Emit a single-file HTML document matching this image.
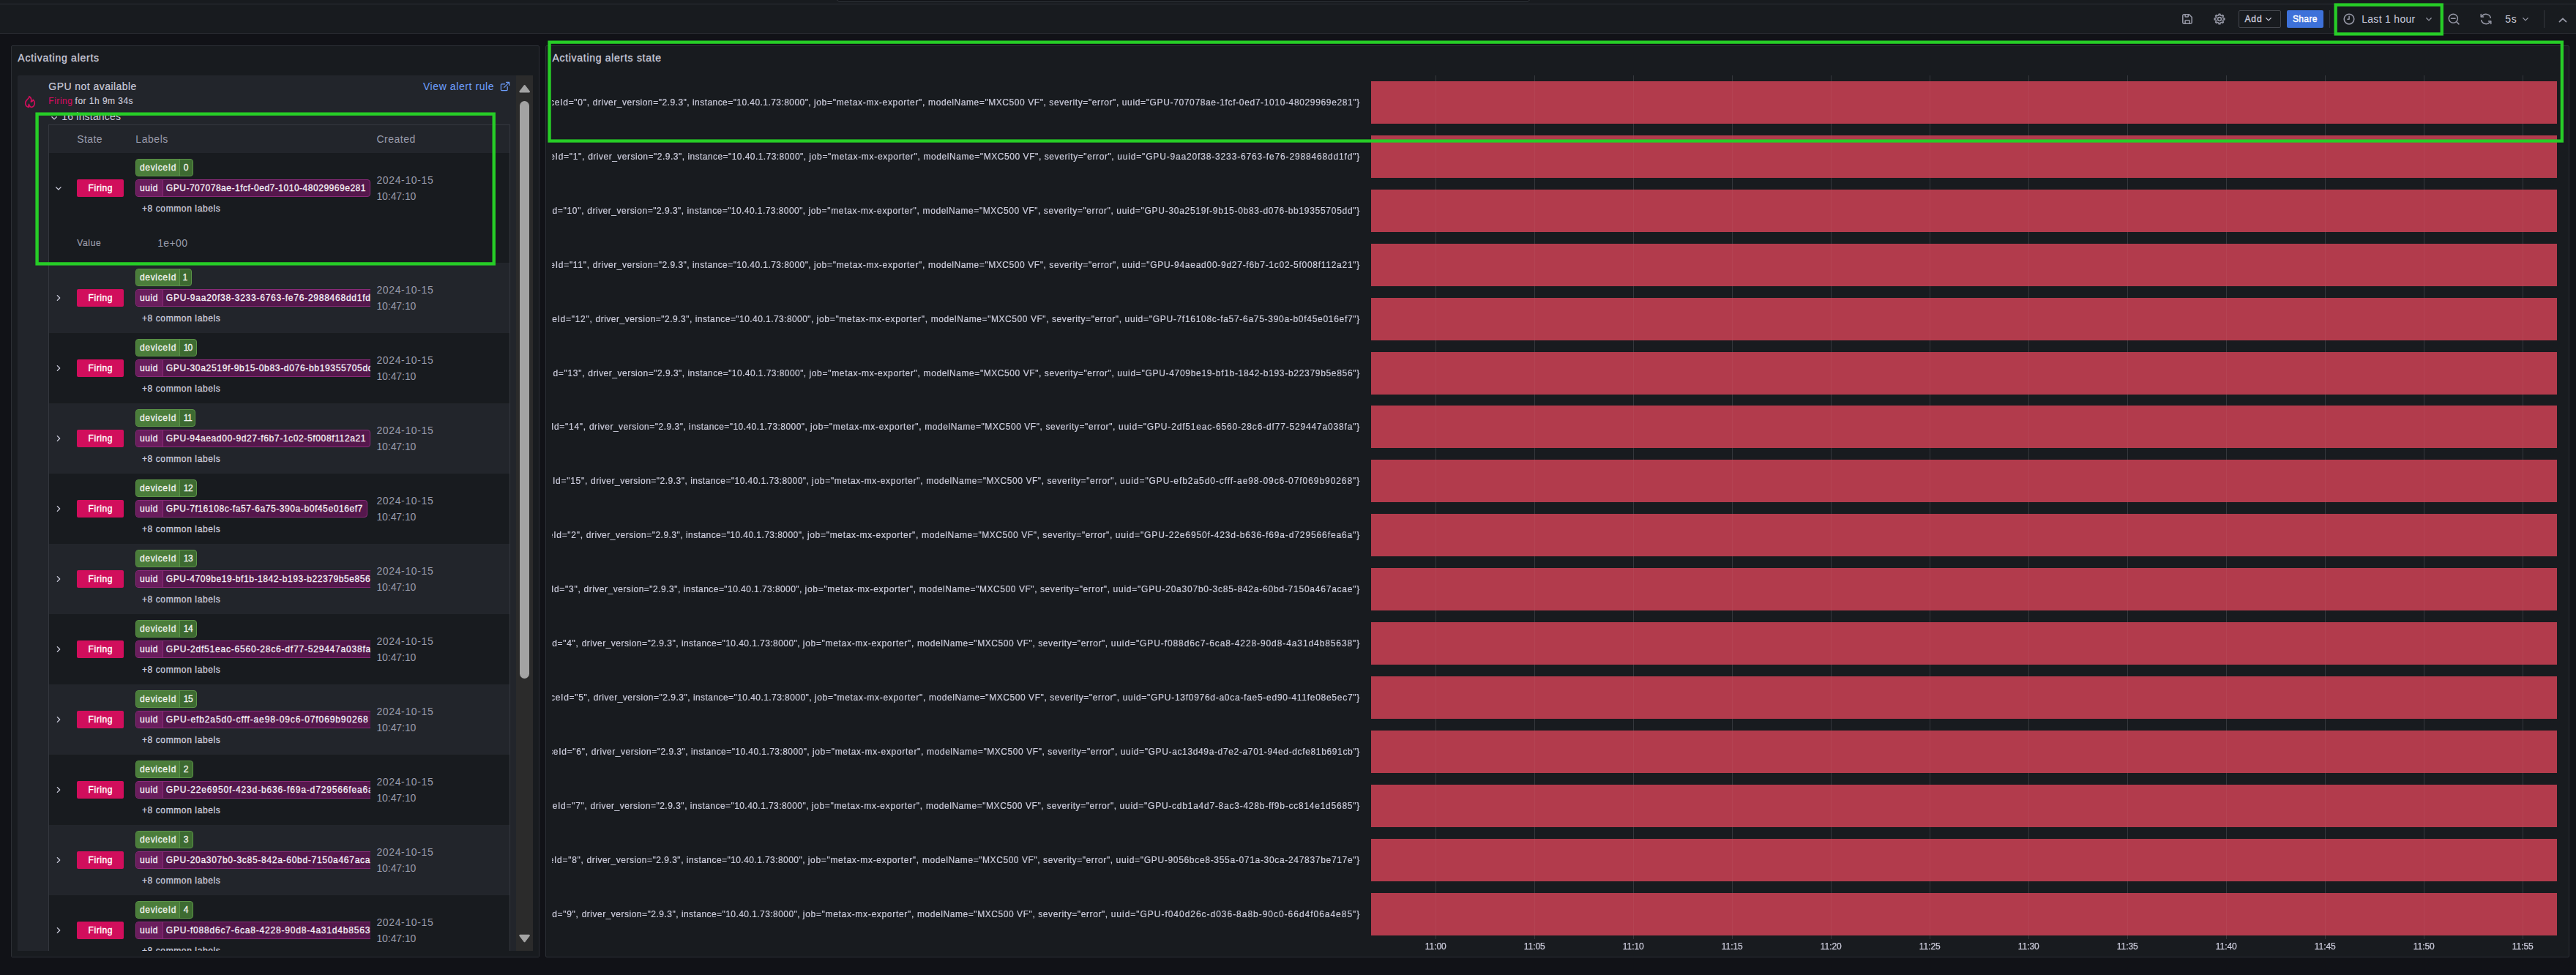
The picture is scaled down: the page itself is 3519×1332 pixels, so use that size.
<!DOCTYPE html>
<html><head><meta charset="utf-8"><title>Activating alerts</title>
<style>
html,body{margin:0;padding:0;}
body{width:3519px;height:1332px;overflow:hidden;background:#111217;position:relative;font-family:"Liberation Sans", sans-serif;}
body div,body svg,.t{position:absolute;}
.t{white-space:pre;}
</style></head><body>
<div style="left:0px;top:0px;width:3519px;height:46px;background:#181b1f;"></div>
<div style="left:0px;top:5px;width:3519px;height:1px;background:#2b2e34;"></div>
<div style="left:0px;top:45px;width:3519px;height:1px;background:#2b2e34;"></div>
<div style="left:1143px;top:-20px;width:947px;height:22px;background:#0d0e12;border:1px solid #34373d;border-radius:3px;box-sizing:border-box;"></div>
<svg style="left:2980px;top:18px" width="16" height="16" viewBox="0 0 16 16" fill="none" stroke="#9698a6" stroke-width="1.55" stroke-linejoin="round" stroke-linecap="round"><path d="M3.500 1.800H10.500L14.200 5.500V12.500a1.700 1.700 0 0 1-1.700 1.700H3.500a1.700 1.700 0 0 1-1.700-1.700V3.500a1.700 1.700 0 0 1 1.700-1.700z"/><path d="M5.100 2v2.200a.8.8 0 0 0 .8.800h2.600a.8.8 0 0 0 .8-.800V2"/><path d="M5.100 14v-3.300a.9.900 0 0 1 .9-.900h4.300a.9.900 0 0 1 .9.900V14"/></svg>
<svg style="left:3022px;top:16px" width="20" height="20" viewBox="0 0 20 20" fill="none" stroke="#9698a6" stroke-width="1.55" stroke-linejoin="round"><path d="M8.90 4.87 L9.09 3.21 L10.91 3.21 L11.10 4.87 L12.85 5.59 L14.16 4.55 L15.45 5.84 L14.41 7.15 L15.13 8.90 L16.79 9.09 L16.79 10.91 L15.13 11.10 L14.41 12.85 L15.45 14.16 L14.16 15.45 L12.85 14.41 L11.10 15.13 L10.91 16.79 L9.09 16.79 L8.90 15.13 L7.15 14.41 L5.84 15.45 L4.55 14.16 L5.59 12.85 L4.87 11.10 L3.21 10.91 L3.21 9.09 L4.87 8.90 L5.59 7.15 L4.55 5.84 L5.84 4.55 L7.15 5.59Z"/><circle cx="10" cy="10" r="2.400"/></svg>
<div style="left:3058px;top:14px;width:58px;height:24px;border:1px solid #45484f;border-radius:2px;box-sizing:border-box;"></div>
<svg style="left:3093.05px;top:22px" width="12" height="8" viewBox="0 0 12 8" fill="none" stroke="#ccccdc" stroke-width="1.3" stroke-linecap="round" stroke-linejoin="round"><path d="M2.7 2.6 6 5.9 9.3 2.6"/></svg>
<div style="left:3124px;top:14px;width:50px;height:24px;background:#3d71d9;border-radius:2px;"></div>
<div style="left:3182px;top:14px;width:1px;height:24px;background:#34373d;"></div>
<svg style="left:3199px;top:16px" width="20" height="20" viewBox="0 0 20 20" fill="none" stroke="#9698a6" stroke-width="1.55" stroke-linecap="round" stroke-linejoin="round"><circle cx="10" cy="10.1" r="6.800"/><path d="M10.100 6.300v3.900h-2.200"/></svg>
<svg style="left:3312.15px;top:22px" width="12" height="8" viewBox="0 0 12 8" fill="none" stroke="#9698a6" stroke-width="1.3" stroke-linecap="round" stroke-linejoin="round"><path d="M2.8 2.7 6 5.9 9.2 2.7"/></svg>
<svg style="left:3342px;top:16px" width="20" height="20" viewBox="0 0 20 20" fill="none" stroke="#9698a6" stroke-width="1.5" stroke-linecap="round"><circle cx="9.300" cy="9.300" r="6.050"/><path d="M6.500 9.300h5.600M13.700 13.700l3.200 3.200"/></svg>
<svg style="left:3385.7px;top:16px" width="20" height="20" viewBox="0 0 20 20" fill="none" stroke="#9698a6" stroke-width="1.5" stroke-linecap="round" stroke-linejoin="round"><path d="M16.3 8.2A6.5 6.5 0 0 0 4.6 6.2"/><path d="M3.7 11.8a6.5 6.5 0 0 0 11.7 2"/><path d="M3.2 3.6v3.3h3.3"/><path d="M16.8 16.4v-3.3h-3.3"/></svg>
<svg style="left:3444px;top:21.6px" width="12" height="8" viewBox="0 0 12 8" fill="none" stroke="#9698a6" stroke-width="1.3" stroke-linecap="round" stroke-linejoin="round"><path d="M2.75 2.65 6 5.9 9.25 2.65"/></svg>
<div style="left:3475px;top:14px;width:1px;height:24px;background:#34373d;"></div>
<svg style="left:3493px;top:23px" width="16" height="10" viewBox="0 0 16 10" fill="none" stroke="#9698a6" stroke-width="1.8" stroke-linecap="round" stroke-linejoin="round"><path d="M3.5 6.6 8 2.3l4.5 4.3"/></svg>
<div style="left:15px;top:62px;width:722px;height:1246px;background:#181b1f;border:1px solid #2c2f35;border-radius:2px;box-sizing:border-box;"></div>
<div style="left:745px;top:62px;width:2765px;height:1246px;background:#181b1f;border:1px solid #2c2f35;border-radius:2px;box-sizing:border-box;"></div>
<div style="left:24px;top:103px;width:681px;height:1196px;background:#22252b;border-radius:2px 0 0 0;"></div>
<div style="left:705px;top:103px;width:23px;height:1196px;background:#2b2b2b;"></div>
<svg style="left:705px;top:103px" width="23" height="40" viewBox="0 0 23 40"><path d="M11.65 14.2 5.55 22.2h12.2z" fill="#a3a3a3" stroke="#a3a3a3" stroke-width="2.4" stroke-linejoin="round"/></svg>
<div style="left:710px;top:138px;width:13px;height:789px;background:#a3a3a3;border-radius:6.5px;"></div>
<svg style="left:705px;top:1262px" width="23" height="37" viewBox="0 0 23 37"><path d="M11.55 24.1 5.45 16h12.2z" fill="#a3a3a3" stroke="#a3a3a3" stroke-width="2.4" stroke-linejoin="round"/></svg>
<svg style="left:32px;top:129px" width="18" height="20" viewBox="0 0 18 20" fill="none" stroke="#d10e5c" stroke-width="1.65" stroke-linejoin="round" stroke-linecap="round"><path d="M7.6 17.4C4.6 16.9 2.7 14.6 2.7 11.9c0-2.400 1.300-4 2.900-5.300C7.100 5.400 7.900 4.200 8 2.700c2.400 1.500 3.300 4.300 2.400 7.500 1.300-.500 2.300-1.500 2.900-2.800 1.400 1.300 2 2.900 2 4.500 0 2.900-2 5.100-4.900 5.600-1.600-.800-2.600-2.200-2.900-4.100-.700 1.200-.900 2.600.100 4z"/></svg>
<svg style="left:682px;top:110px" width="16" height="16" viewBox="0 0 16 16" fill="none" stroke="#6e9fff" stroke-width="1.2" stroke-linecap="round" stroke-linejoin="round"><path d="M11.2 8.400v4.200a1 1 0 0 1-1 1H3.400a1 1 0 0 1-1-1V5.800a1 1 0 0 1 1-1h4.200"/><path d="M9.600 2.400h4v4M13.400 2.600 6.700 9.300"/></svg>
<svg style="left:68px;top:156.500px" width="12" height="8" viewBox="0 0 12 8" fill="none" stroke="#ccccdc" stroke-width="1.3" stroke-linecap="round" stroke-linejoin="round"><path d="M2.900 2.700 6.100 5.900 9.300 2.700"/></svg>
<div style="left:66px;top:170px;width:631px;height:1129px;border:1px solid #34373e;border-bottom:none;box-sizing:border-box;"></div>
<div style="left:67px;top:209px;width:629px;height:150px;background:#181b1f;"></div>
<svg style="left:74px;top:252.5px" width="12" height="8" viewBox="0 0 12 8" fill="none" stroke="#ccccdc" stroke-width="1.3" stroke-linecap="round" stroke-linejoin="round"><path d="M2.700 2.900 5.900 6.000 9.100 2.900"/></svg>
<div style="left:105px;top:245px;width:64px;height:24px;background:#d10e5c;border-radius:2px;"></div>
<div style="left:185px;top:217px;width:79.0px;height:24px;border:1px solid #5b9447;border-radius:4px;box-sizing:border-box;background:#3d6a31;overflow:hidden"><div style="left:0;top:0;width:59.0px;height:22px;background:#4b7d3b;border-right:1px solid #5b9447"></div></div>
<div style="left:185px;top:245px;width:320.8px;height:24px;border:1px solid #8a2a79;border-radius:4px;box-sizing:border-box;background:#55174c;overflow:hidden"><div style="left:0;top:0;width:35.500px;height:22px;background:#6a1e5d;border-right:1px solid #8a2a79"></div></div>
<div style="left:67px;top:359px;width:629px;height:96px;background:#22252b;"></div>
<svg style="left:76px;top:400px" width="8" height="14" viewBox="0 0 8 14" fill="none" stroke="#ccccdc" stroke-width="1.3" stroke-linecap="round" stroke-linejoin="round"><path d="M2.300 3.600 5.700 7 2.300 10.400"/></svg>
<div style="left:105px;top:395px;width:64px;height:24px;background:#d10e5c;border-radius:2px;"></div>
<div style="left:185px;top:367px;width:77.0px;height:24px;border:1px solid #5b9447;border-radius:4px;box-sizing:border-box;background:#3d6a31;overflow:hidden"><div style="left:0;top:0;width:59.0px;height:22px;background:#4b7d3b;border-right:1px solid #5b9447"></div></div>
<div style="left:185px;top:395px;width:321px;height:24px;overflow:hidden"><div style="left:0;top:0;width:340px;height:24px;border:1px solid #8a2a79;border-radius:4px;box-sizing:border-box;background:#55174c;overflow:hidden"><div style="left:0;top:0;width:35.500px;height:22px;background:#6a1e5d;border-right:1px solid #8a2a79"></div></div></div>
<div style="left:67px;top:455px;width:629px;height:96px;background:#181b1f;"></div>
<svg style="left:76px;top:496px" width="8" height="14" viewBox="0 0 8 14" fill="none" stroke="#ccccdc" stroke-width="1.3" stroke-linecap="round" stroke-linejoin="round"><path d="M2.300 3.600 5.700 7 2.300 10.400"/></svg>
<div style="left:105px;top:491px;width:64px;height:24px;background:#d10e5c;border-radius:2px;"></div>
<div style="left:185px;top:463px;width:83.7px;height:24px;border:1px solid #5b9447;border-radius:4px;box-sizing:border-box;background:#3d6a31;overflow:hidden"><div style="left:0;top:0;width:59.0px;height:22px;background:#4b7d3b;border-right:1px solid #5b9447"></div></div>
<div style="left:185px;top:491px;width:321px;height:24px;overflow:hidden"><div style="left:0;top:0;width:340px;height:24px;border:1px solid #8a2a79;border-radius:4px;box-sizing:border-box;background:#55174c;overflow:hidden"><div style="left:0;top:0;width:35.500px;height:22px;background:#6a1e5d;border-right:1px solid #8a2a79"></div></div></div>
<div style="left:67px;top:551px;width:629px;height:96px;background:#22252b;"></div>
<svg style="left:76px;top:592px" width="8" height="14" viewBox="0 0 8 14" fill="none" stroke="#ccccdc" stroke-width="1.3" stroke-linecap="round" stroke-linejoin="round"><path d="M2.300 3.600 5.700 7 2.300 10.400"/></svg>
<div style="left:105px;top:587px;width:64px;height:24px;background:#d10e5c;border-radius:2px;"></div>
<div style="left:185px;top:559px;width:81.7px;height:24px;border:1px solid #5b9447;border-radius:4px;box-sizing:border-box;background:#3d6a31;overflow:hidden"><div style="left:0;top:0;width:59.0px;height:22px;background:#4b7d3b;border-right:1px solid #5b9447"></div></div>
<div style="left:185px;top:587px;width:320.8px;height:24px;border:1px solid #8a2a79;border-radius:4px;box-sizing:border-box;background:#55174c;overflow:hidden"><div style="left:0;top:0;width:35.500px;height:22px;background:#6a1e5d;border-right:1px solid #8a2a79"></div></div>
<div style="left:67px;top:647px;width:629px;height:96px;background:#181b1f;"></div>
<svg style="left:76px;top:688px" width="8" height="14" viewBox="0 0 8 14" fill="none" stroke="#ccccdc" stroke-width="1.3" stroke-linecap="round" stroke-linejoin="round"><path d="M2.300 3.600 5.700 7 2.300 10.400"/></svg>
<div style="left:105px;top:683px;width:64px;height:24px;background:#d10e5c;border-radius:2px;"></div>
<div style="left:185px;top:655px;width:84.0px;height:24px;border:1px solid #5b9447;border-radius:4px;box-sizing:border-box;background:#3d6a31;overflow:hidden"><div style="left:0;top:0;width:59.0px;height:22px;background:#4b7d3b;border-right:1px solid #5b9447"></div></div>
<div style="left:185px;top:683px;width:316.6px;height:24px;border:1px solid #8a2a79;border-radius:4px;box-sizing:border-box;background:#55174c;overflow:hidden"><div style="left:0;top:0;width:35.500px;height:22px;background:#6a1e5d;border-right:1px solid #8a2a79"></div></div>
<div style="left:67px;top:743px;width:629px;height:96px;background:#22252b;"></div>
<svg style="left:76px;top:784px" width="8" height="14" viewBox="0 0 8 14" fill="none" stroke="#ccccdc" stroke-width="1.3" stroke-linecap="round" stroke-linejoin="round"><path d="M2.300 3.600 5.700 7 2.300 10.400"/></svg>
<div style="left:105px;top:779px;width:64px;height:24px;background:#d10e5c;border-radius:2px;"></div>
<div style="left:185px;top:751px;width:84.0px;height:24px;border:1px solid #5b9447;border-radius:4px;box-sizing:border-box;background:#3d6a31;overflow:hidden"><div style="left:0;top:0;width:59.0px;height:22px;background:#4b7d3b;border-right:1px solid #5b9447"></div></div>
<div style="left:185px;top:779px;width:321px;height:24px;overflow:hidden"><div style="left:0;top:0;width:340px;height:24px;border:1px solid #8a2a79;border-radius:4px;box-sizing:border-box;background:#55174c;overflow:hidden"><div style="left:0;top:0;width:35.500px;height:22px;background:#6a1e5d;border-right:1px solid #8a2a79"></div></div></div>
<div style="left:67px;top:839px;width:629px;height:96px;background:#181b1f;"></div>
<svg style="left:76px;top:880px" width="8" height="14" viewBox="0 0 8 14" fill="none" stroke="#ccccdc" stroke-width="1.3" stroke-linecap="round" stroke-linejoin="round"><path d="M2.300 3.600 5.700 7 2.300 10.400"/></svg>
<div style="left:105px;top:875px;width:64px;height:24px;background:#d10e5c;border-radius:2px;"></div>
<div style="left:185px;top:847px;width:84.0px;height:24px;border:1px solid #5b9447;border-radius:4px;box-sizing:border-box;background:#3d6a31;overflow:hidden"><div style="left:0;top:0;width:59.0px;height:22px;background:#4b7d3b;border-right:1px solid #5b9447"></div></div>
<div style="left:185px;top:875px;width:321px;height:24px;overflow:hidden"><div style="left:0;top:0;width:340px;height:24px;border:1px solid #8a2a79;border-radius:4px;box-sizing:border-box;background:#55174c;overflow:hidden"><div style="left:0;top:0;width:35.500px;height:22px;background:#6a1e5d;border-right:1px solid #8a2a79"></div></div></div>
<div style="left:67px;top:935px;width:629px;height:96px;background:#22252b;"></div>
<svg style="left:76px;top:976px" width="8" height="14" viewBox="0 0 8 14" fill="none" stroke="#ccccdc" stroke-width="1.3" stroke-linecap="round" stroke-linejoin="round"><path d="M2.300 3.600 5.700 7 2.300 10.400"/></svg>
<div style="left:105px;top:971px;width:64px;height:24px;background:#d10e5c;border-radius:2px;"></div>
<div style="left:185px;top:943px;width:84.0px;height:24px;border:1px solid #5b9447;border-radius:4px;box-sizing:border-box;background:#3d6a31;overflow:hidden"><div style="left:0;top:0;width:59.0px;height:22px;background:#4b7d3b;border-right:1px solid #5b9447"></div></div>
<div style="left:185px;top:971px;width:321px;height:24px;overflow:hidden"><div style="left:0;top:0;width:340px;height:24px;border:1px solid #8a2a79;border-radius:4px;box-sizing:border-box;background:#55174c;overflow:hidden"><div style="left:0;top:0;width:35.500px;height:22px;background:#6a1e5d;border-right:1px solid #8a2a79"></div></div></div>
<div style="left:67px;top:1031px;width:629px;height:96px;background:#181b1f;"></div>
<svg style="left:76px;top:1072px" width="8" height="14" viewBox="0 0 8 14" fill="none" stroke="#ccccdc" stroke-width="1.3" stroke-linecap="round" stroke-linejoin="round"><path d="M2.300 3.600 5.700 7 2.300 10.400"/></svg>
<div style="left:105px;top:1067px;width:64px;height:24px;background:#d10e5c;border-radius:2px;"></div>
<div style="left:185px;top:1039px;width:79.0px;height:24px;border:1px solid #5b9447;border-radius:4px;box-sizing:border-box;background:#3d6a31;overflow:hidden"><div style="left:0;top:0;width:59.0px;height:22px;background:#4b7d3b;border-right:1px solid #5b9447"></div></div>
<div style="left:185px;top:1067px;width:321px;height:24px;overflow:hidden"><div style="left:0;top:0;width:340px;height:24px;border:1px solid #8a2a79;border-radius:4px;box-sizing:border-box;background:#55174c;overflow:hidden"><div style="left:0;top:0;width:35.500px;height:22px;background:#6a1e5d;border-right:1px solid #8a2a79"></div></div></div>
<div style="left:67px;top:1127px;width:629px;height:96px;background:#22252b;"></div>
<svg style="left:76px;top:1168px" width="8" height="14" viewBox="0 0 8 14" fill="none" stroke="#ccccdc" stroke-width="1.3" stroke-linecap="round" stroke-linejoin="round"><path d="M2.300 3.600 5.700 7 2.300 10.400"/></svg>
<div style="left:105px;top:1163px;width:64px;height:24px;background:#d10e5c;border-radius:2px;"></div>
<div style="left:185px;top:1135px;width:79.0px;height:24px;border:1px solid #5b9447;border-radius:4px;box-sizing:border-box;background:#3d6a31;overflow:hidden"><div style="left:0;top:0;width:59.0px;height:22px;background:#4b7d3b;border-right:1px solid #5b9447"></div></div>
<div style="left:185px;top:1163px;width:321px;height:24px;overflow:hidden"><div style="left:0;top:0;width:340px;height:24px;border:1px solid #8a2a79;border-radius:4px;box-sizing:border-box;background:#55174c;overflow:hidden"><div style="left:0;top:0;width:35.500px;height:22px;background:#6a1e5d;border-right:1px solid #8a2a79"></div></div></div>
<div style="left:67px;top:1223px;width:629px;height:76px;background:#181b1f;"></div>
<svg style="left:76px;top:1264px" width="8" height="14" viewBox="0 0 8 14" fill="none" stroke="#ccccdc" stroke-width="1.3" stroke-linecap="round" stroke-linejoin="round"><path d="M2.300 3.600 5.700 7 2.300 10.400"/></svg>
<div style="left:105px;top:1259px;width:64px;height:24px;background:#d10e5c;border-radius:2px;"></div>
<div style="left:185px;top:1231px;width:79.0px;height:24px;border:1px solid #5b9447;border-radius:4px;box-sizing:border-box;background:#3d6a31;overflow:hidden"><div style="left:0;top:0;width:59.0px;height:22px;background:#4b7d3b;border-right:1px solid #5b9447"></div></div>
<div style="left:185px;top:1259px;width:321px;height:24px;overflow:hidden"><div style="left:0;top:0;width:340px;height:24px;border:1px solid #8a2a79;border-radius:4px;box-sizing:border-box;background:#55174c;overflow:hidden"><div style="left:0;top:0;width:35.500px;height:22px;background:#6a1e5d;border-right:1px solid #8a2a79"></div></div></div>
<div style="left:1961px;top:103px;width:1px;height:1180px;background:rgba(204,204,220,0.11);"></div>
<div style="left:2096px;top:103px;width:1px;height:1180px;background:rgba(204,204,220,0.11);"></div>
<div style="left:2231px;top:103px;width:1px;height:1180px;background:rgba(204,204,220,0.11);"></div>
<div style="left:2366px;top:103px;width:1px;height:1180px;background:rgba(204,204,220,0.11);"></div>
<div style="left:2501px;top:103px;width:1px;height:1180px;background:rgba(204,204,220,0.11);"></div>
<div style="left:2636px;top:103px;width:1px;height:1180px;background:rgba(204,204,220,0.11);"></div>
<div style="left:2771px;top:103px;width:1px;height:1180px;background:rgba(204,204,220,0.11);"></div>
<div style="left:2906px;top:103px;width:1px;height:1180px;background:rgba(204,204,220,0.11);"></div>
<div style="left:3041px;top:103px;width:1px;height:1180px;background:rgba(204,204,220,0.11);"></div>
<div style="left:3176px;top:103px;width:1px;height:1180px;background:rgba(204,204,220,0.11);"></div>
<div style="left:3311px;top:103px;width:1px;height:1180px;background:rgba(204,204,220,0.11);"></div>
<div style="left:3446px;top:103px;width:1px;height:1180px;background:rgba(204,204,220,0.11);"></div>
<div style="left:1873px;top:111px;width:1620px;height:58px;background:#b23b4c;"></div>
<div style="left:1873px;top:185px;width:1620px;height:58px;background:#b23b4c;"></div>
<div style="left:1873px;top:259px;width:1620px;height:58px;background:#b23b4c;"></div>
<div style="left:1873px;top:333px;width:1620px;height:58px;background:#b23b4c;"></div>
<div style="left:1873px;top:407px;width:1620px;height:58px;background:#b23b4c;"></div>
<div style="left:1873px;top:481px;width:1620px;height:58px;background:#b23b4c;"></div>
<div style="left:1873px;top:554px;width:1620px;height:58px;background:#b23b4c;"></div>
<div style="left:1873px;top:628px;width:1620px;height:58px;background:#b23b4c;"></div>
<div style="left:1873px;top:702px;width:1620px;height:58px;background:#b23b4c;"></div>
<div style="left:1873px;top:776px;width:1620px;height:58px;background:#b23b4c;"></div>
<div style="left:1873px;top:850px;width:1620px;height:58px;background:#b23b4c;"></div>
<div style="left:1873px;top:924px;width:1620px;height:58px;background:#b23b4c;"></div>
<div style="left:1873px;top:998px;width:1620px;height:58px;background:#b23b4c;"></div>
<div style="left:1873px;top:1072px;width:1620px;height:58px;background:#b23b4c;"></div>
<div style="left:1873px;top:1146px;width:1620px;height:58px;background:#b23b4c;"></div>
<div style="left:1873px;top:1220px;width:1620px;height:58px;background:#b23b4c;"></div>
<div style="left:1961px;top:103px;width:1px;height:1180px;background:rgba(225,215,225,0.055);"></div>
<div style="left:2096px;top:103px;width:1px;height:1180px;background:rgba(225,215,225,0.055);"></div>
<div style="left:2231px;top:103px;width:1px;height:1180px;background:rgba(225,215,225,0.055);"></div>
<div style="left:2366px;top:103px;width:1px;height:1180px;background:rgba(225,215,225,0.055);"></div>
<div style="left:2501px;top:103px;width:1px;height:1180px;background:rgba(225,215,225,0.055);"></div>
<div style="left:2636px;top:103px;width:1px;height:1180px;background:rgba(225,215,225,0.055);"></div>
<div style="left:2771px;top:103px;width:1px;height:1180px;background:rgba(225,215,225,0.055);"></div>
<div style="left:2906px;top:103px;width:1px;height:1180px;background:rgba(225,215,225,0.055);"></div>
<div style="left:3041px;top:103px;width:1px;height:1180px;background:rgba(225,215,225,0.055);"></div>
<div style="left:3176px;top:103px;width:1px;height:1180px;background:rgba(225,215,225,0.055);"></div>
<div style="left:3311px;top:103px;width:1px;height:1180px;background:rgba(225,215,225,0.055);"></div>
<div style="left:3446px;top:103px;width:1px;height:1180px;background:rgba(225,215,225,0.055);"></div>
<span class="t" style="left:3066.50px;top:18.00px;font-size:12px;line-height:16px;color:#ccccdc;-webkit-text-stroke:0.35px #ccccdc;letter-spacing:0.8703px;">Add</span>
<span class="t" style="left:3132.00px;top:18.00px;font-size:12px;line-height:16px;color:#ffffff;-webkit-text-stroke:0.4px #ffffff;letter-spacing:0.3422px;">Share</span>
<span class="t" style="left:3226.20px;top:17.00px;font-size:14px;line-height:18px;color:#ccccdc;letter-spacing:0.3037px;">Last 1 hour</span>
<span class="t" style="left:3422.20px;top:17.00px;font-size:14px;line-height:18px;color:#ccccdc;letter-spacing:0.7031px;">5s</span>
<span class="t" style="left:24.30px;top:70.00px;font-size:14px;line-height:18px;color:#ccccdc;-webkit-text-stroke:0.3px #ccccdc;letter-spacing:0.7482px;">Activating alerts</span>
<span class="t" style="left:754.40px;top:70.00px;font-size:14px;line-height:18px;color:#ccccdc;-webkit-text-stroke:0.3px #ccccdc;letter-spacing:0.7108px;">Activating alerts state</span>
<span class="t" style="left:66.30px;top:109.00px;font-size:14px;line-height:18px;color:#ccccdc;-webkit-text-stroke:0.15px #ccccdc;letter-spacing:0.4535px;">GPU not available</span>
<span class="t" style="left:66.30px;top:130.00px;font-size:12px;line-height:16px;color:#d10e5c;-webkit-text-stroke:0.15px #d10e5c;letter-spacing:0.5369px;">Firing</span>
<span class="t" style="left:102.60px;top:130.00px;font-size:12px;line-height:16px;color:#ccccdc;-webkit-text-stroke:0.15px #ccccdc;letter-spacing:0.4688px;">for 1h 9m 34s</span>
<span class="t" style="left:577.90px;top:109.00px;font-size:14px;line-height:18px;color:#6e9fff;letter-spacing:0.5891px;">View alert rule</span>
<span class="t" style="left:84.30px;top:150.00px;font-size:14px;line-height:18px;color:#ccccdc;letter-spacing:0.1901px;">16 instances</span>
<span class="t" style="left:105.20px;top:181.00px;font-size:14px;line-height:18px;color:#9a9cab;letter-spacing:0.4242px;">State</span>
<span class="t" style="left:185.30px;top:181.00px;font-size:14px;line-height:18px;color:#9a9cab;letter-spacing:0.5469px;">Labels</span>
<span class="t" style="left:514.40px;top:181.00px;font-size:14px;line-height:18px;color:#9a9cab;letter-spacing:0.5312px;">Created</span>
<span class="t" style="left:120.50px;top:249.00px;font-size:12px;line-height:16px;color:#ffffff;-webkit-text-stroke:0.4px #ffffff;letter-spacing:0.5969px;">Firing</span>
<span class="t" style="left:191.00px;top:221.00px;font-size:12px;line-height:16px;color:#f4f5f0;-webkit-text-stroke:0.3px #f4f5f0;letter-spacing:0.6710px;">deviceId</span>
<span class="t" style="left:250.80px;top:221.00px;font-size:12px;line-height:16px;color:#f4f5f0;-webkit-text-stroke:0.3px #f4f5f0;">0</span>
<span class="t" style="left:191.00px;top:249.00px;font-size:12px;line-height:16px;color:#f4f0f5;-webkit-text-stroke:0.3px #f4f0f5;letter-spacing:0.5708px;">uuid</span>
<div style="left:226.80px;top:249.00px;width:279.20px;height:16px;overflow:hidden"><span class="t" style="left:0;top:0;font-size:12px;line-height:16px;color:#f4f0f5;-webkit-text-stroke:0.3px #f4f0f5;letter-spacing:0.5256px;">GPU-707078ae-1fcf-0ed7-1010-48029969e281</span></div>
<span class="t" style="left:193.90px;top:277.00px;font-size:12px;line-height:16px;color:#ccccdc;-webkit-text-stroke:0.3px #ccccdc;letter-spacing:0.6121px;">+8 common labels</span>
<span class="t" style="left:514.40px;top:237.00px;font-size:14px;line-height:18px;color:#9a9cab;letter-spacing:0.6417px;">2024-10-15</span>
<span class="t" style="left:514.40px;top:259.00px;font-size:14px;line-height:18px;color:#9a9cab;letter-spacing:-0.0714px;">10:47:10</span>
<span class="t" style="left:105.20px;top:324.00px;font-size:12px;line-height:16px;color:#9a9cab;-webkit-text-stroke:0.2px #9a9cab;letter-spacing:0.6719px;">Value</span>
<span class="t" style="left:215.20px;top:323.00px;font-size:14px;line-height:18px;color:#9a9cab;letter-spacing:0.3680px;">1e+00</span>
<span class="t" style="left:120.50px;top:399.00px;font-size:12px;line-height:16px;color:#ffffff;-webkit-text-stroke:0.4px #ffffff;letter-spacing:0.5969px;">Firing</span>
<span class="t" style="left:191.00px;top:371.00px;font-size:12px;line-height:16px;color:#f4f5f0;-webkit-text-stroke:0.3px #f4f5f0;letter-spacing:0.6710px;">deviceId</span>
<span class="t" style="left:249.50px;top:371.00px;font-size:12px;line-height:16px;color:#f4f5f0;-webkit-text-stroke:0.3px #f4f5f0;">1</span>
<span class="t" style="left:191.00px;top:399.00px;font-size:12px;line-height:16px;color:#f4f0f5;-webkit-text-stroke:0.3px #f4f0f5;letter-spacing:0.5708px;">uuid</span>
<div style="left:226.80px;top:399.00px;width:279.20px;height:16px;overflow:hidden"><span class="t" style="left:0;top:0;font-size:12px;line-height:16px;color:#f4f0f5;-webkit-text-stroke:0.3px #f4f0f5;letter-spacing:0.7607px;">GPU-9aa20f38-3233-6763-fe76-2988468dd1fd</span></div>
<span class="t" style="left:193.90px;top:427.00px;font-size:12px;line-height:16px;color:#ccccdc;-webkit-text-stroke:0.3px #ccccdc;letter-spacing:0.6121px;">+8 common labels</span>
<span class="t" style="left:514.40px;top:387.00px;font-size:14px;line-height:18px;color:#9a9cab;letter-spacing:0.6417px;">2024-10-15</span>
<span class="t" style="left:514.40px;top:409.00px;font-size:14px;line-height:18px;color:#9a9cab;letter-spacing:-0.0714px;">10:47:10</span>
<span class="t" style="left:120.50px;top:495.00px;font-size:12px;line-height:16px;color:#ffffff;-webkit-text-stroke:0.4px #ffffff;letter-spacing:0.5969px;">Firing</span>
<span class="t" style="left:191.00px;top:467.00px;font-size:12px;line-height:16px;color:#f4f5f0;-webkit-text-stroke:0.3px #f4f5f0;letter-spacing:0.6710px;">deviceId</span>
<span class="t" style="left:250.80px;top:467.00px;font-size:12px;line-height:16px;color:#f4f5f0;-webkit-text-stroke:0.3px #f4f5f0;letter-spacing:-1.0594px;">10</span>
<span class="t" style="left:191.00px;top:495.00px;font-size:12px;line-height:16px;color:#f4f0f5;-webkit-text-stroke:0.3px #f4f0f5;letter-spacing:0.5708px;">uuid</span>
<div style="left:226.80px;top:495.00px;width:279.20px;height:16px;overflow:hidden"><span class="t" style="left:0;top:0;font-size:12px;line-height:16px;color:#f4f0f5;-webkit-text-stroke:0.3px #f4f0f5;letter-spacing:0.6790px;">GPU-30a2519f-9b15-0b83-d076-bb19355705dd</span></div>
<span class="t" style="left:193.90px;top:523.00px;font-size:12px;line-height:16px;color:#ccccdc;-webkit-text-stroke:0.3px #ccccdc;letter-spacing:0.6121px;">+8 common labels</span>
<span class="t" style="left:514.40px;top:483.00px;font-size:14px;line-height:18px;color:#9a9cab;letter-spacing:0.6417px;">2024-10-15</span>
<span class="t" style="left:514.40px;top:505.00px;font-size:14px;line-height:18px;color:#9a9cab;letter-spacing:-0.0714px;">10:47:10</span>
<span class="t" style="left:120.50px;top:591.00px;font-size:12px;line-height:16px;color:#ffffff;-webkit-text-stroke:0.4px #ffffff;letter-spacing:0.5969px;">Firing</span>
<span class="t" style="left:191.00px;top:563.00px;font-size:12px;line-height:16px;color:#f4f5f0;-webkit-text-stroke:0.3px #f4f5f0;letter-spacing:0.6710px;">deviceId</span>
<span class="t" style="left:250.80px;top:563.00px;font-size:12px;line-height:16px;color:#f4f5f0;-webkit-text-stroke:0.3px #f4f5f0;letter-spacing:-0.6687px;">11</span>
<span class="t" style="left:191.00px;top:591.00px;font-size:12px;line-height:16px;color:#f4f0f5;-webkit-text-stroke:0.3px #f4f0f5;letter-spacing:0.5708px;">uuid</span>
<div style="left:226.80px;top:591.00px;width:279.20px;height:16px;overflow:hidden"><span class="t" style="left:0;top:0;font-size:12px;line-height:16px;color:#f4f0f5;-webkit-text-stroke:0.3px #f4f0f5;letter-spacing:0.6341px;">GPU-94aead00-9d27-f6b7-1c02-5f008f112a21</span></div>
<span class="t" style="left:193.90px;top:619.00px;font-size:12px;line-height:16px;color:#ccccdc;-webkit-text-stroke:0.3px #ccccdc;letter-spacing:0.6121px;">+8 common labels</span>
<span class="t" style="left:514.40px;top:579.00px;font-size:14px;line-height:18px;color:#9a9cab;letter-spacing:0.6417px;">2024-10-15</span>
<span class="t" style="left:514.40px;top:601.00px;font-size:14px;line-height:18px;color:#9a9cab;letter-spacing:-0.0714px;">10:47:10</span>
<span class="t" style="left:120.50px;top:687.00px;font-size:12px;line-height:16px;color:#ffffff;-webkit-text-stroke:0.4px #ffffff;letter-spacing:0.5969px;">Firing</span>
<span class="t" style="left:191.00px;top:659.00px;font-size:12px;line-height:16px;color:#f4f5f0;-webkit-text-stroke:0.3px #f4f5f0;letter-spacing:0.6710px;">deviceId</span>
<span class="t" style="left:250.80px;top:659.00px;font-size:12px;line-height:16px;color:#f4f5f0;-webkit-text-stroke:0.3px #f4f5f0;letter-spacing:-0.4594px;">12</span>
<span class="t" style="left:191.00px;top:687.00px;font-size:12px;line-height:16px;color:#f4f0f5;-webkit-text-stroke:0.3px #f4f0f5;letter-spacing:0.5708px;">uuid</span>
<div style="left:226.80px;top:687.00px;width:279.20px;height:16px;overflow:hidden"><span class="t" style="left:0;top:0;font-size:12px;line-height:16px;color:#f4f0f5;-webkit-text-stroke:0.3px #f4f0f5;letter-spacing:0.5893px;">GPU-7f16108c-fa57-6a75-390a-b0f45e016ef7</span></div>
<span class="t" style="left:193.90px;top:715.00px;font-size:12px;line-height:16px;color:#ccccdc;-webkit-text-stroke:0.3px #ccccdc;letter-spacing:0.6121px;">+8 common labels</span>
<span class="t" style="left:514.40px;top:675.00px;font-size:14px;line-height:18px;color:#9a9cab;letter-spacing:0.6417px;">2024-10-15</span>
<span class="t" style="left:514.40px;top:697.00px;font-size:14px;line-height:18px;color:#9a9cab;letter-spacing:-0.0714px;">10:47:10</span>
<span class="t" style="left:120.50px;top:783.00px;font-size:12px;line-height:16px;color:#ffffff;-webkit-text-stroke:0.4px #ffffff;letter-spacing:0.5969px;">Firing</span>
<span class="t" style="left:191.00px;top:755.00px;font-size:12px;line-height:16px;color:#f4f5f0;-webkit-text-stroke:0.3px #f4f5f0;letter-spacing:0.6710px;">deviceId</span>
<span class="t" style="left:250.80px;top:755.00px;font-size:12px;line-height:16px;color:#f4f5f0;-webkit-text-stroke:0.3px #f4f5f0;letter-spacing:-0.4594px;">13</span>
<span class="t" style="left:191.00px;top:783.00px;font-size:12px;line-height:16px;color:#f4f0f5;-webkit-text-stroke:0.3px #f4f0f5;letter-spacing:0.5708px;">uuid</span>
<div style="left:226.80px;top:783.00px;width:279.20px;height:16px;overflow:hidden"><span class="t" style="left:0;top:0;font-size:12px;line-height:16px;color:#f4f0f5;-webkit-text-stroke:0.3px #f4f0f5;letter-spacing:0.5841px;">GPU-4709be19-bf1b-1842-b193-b22379b5e856</span></div>
<span class="t" style="left:193.90px;top:811.00px;font-size:12px;line-height:16px;color:#ccccdc;-webkit-text-stroke:0.3px #ccccdc;letter-spacing:0.6121px;">+8 common labels</span>
<span class="t" style="left:514.40px;top:771.00px;font-size:14px;line-height:18px;color:#9a9cab;letter-spacing:0.6417px;">2024-10-15</span>
<span class="t" style="left:514.40px;top:793.00px;font-size:14px;line-height:18px;color:#9a9cab;letter-spacing:-0.0714px;">10:47:10</span>
<span class="t" style="left:120.50px;top:879.00px;font-size:12px;line-height:16px;color:#ffffff;-webkit-text-stroke:0.4px #ffffff;letter-spacing:0.5969px;">Firing</span>
<span class="t" style="left:191.00px;top:851.00px;font-size:12px;line-height:16px;color:#f4f5f0;-webkit-text-stroke:0.3px #f4f5f0;letter-spacing:0.6710px;">deviceId</span>
<span class="t" style="left:250.80px;top:851.00px;font-size:12px;line-height:16px;color:#f4f5f0;-webkit-text-stroke:0.3px #f4f5f0;letter-spacing:-0.4594px;">14</span>
<span class="t" style="left:191.00px;top:879.00px;font-size:12px;line-height:16px;color:#f4f0f5;-webkit-text-stroke:0.3px #f4f0f5;letter-spacing:0.5708px;">uuid</span>
<div style="left:226.80px;top:879.00px;width:279.20px;height:16px;overflow:hidden"><span class="t" style="left:0;top:0;font-size:12px;line-height:16px;color:#f4f0f5;-webkit-text-stroke:0.3px #f4f0f5;letter-spacing:0.8029px;">GPU-2df51eac-6560-28c6-df77-529447a038fa</span></div>
<span class="t" style="left:193.90px;top:907.00px;font-size:12px;line-height:16px;color:#ccccdc;-webkit-text-stroke:0.3px #ccccdc;letter-spacing:0.6121px;">+8 common labels</span>
<span class="t" style="left:514.40px;top:867.00px;font-size:14px;line-height:18px;color:#9a9cab;letter-spacing:0.6417px;">2024-10-15</span>
<span class="t" style="left:514.40px;top:889.00px;font-size:14px;line-height:18px;color:#9a9cab;letter-spacing:-0.0714px;">10:47:10</span>
<span class="t" style="left:120.50px;top:975.00px;font-size:12px;line-height:16px;color:#ffffff;-webkit-text-stroke:0.4px #ffffff;letter-spacing:0.5969px;">Firing</span>
<span class="t" style="left:191.00px;top:947.00px;font-size:12px;line-height:16px;color:#f4f5f0;-webkit-text-stroke:0.3px #f4f5f0;letter-spacing:0.6710px;">deviceId</span>
<span class="t" style="left:250.80px;top:947.00px;font-size:12px;line-height:16px;color:#f4f5f0;-webkit-text-stroke:0.3px #f4f5f0;letter-spacing:-0.4594px;">15</span>
<span class="t" style="left:191.00px;top:975.00px;font-size:12px;line-height:16px;color:#f4f0f5;-webkit-text-stroke:0.3px #f4f0f5;letter-spacing:0.5708px;">uuid</span>
<div style="left:226.80px;top:975.00px;width:279.20px;height:16px;overflow:hidden"><span class="t" style="left:0;top:0;font-size:12px;line-height:16px;color:#f4f0f5;-webkit-text-stroke:0.3px #f4f0f5;letter-spacing:0.8954px;">GPU-efb2a5d0-cfff-ae98-09c6-07f069b90268</span></div>
<span class="t" style="left:193.90px;top:1003.00px;font-size:12px;line-height:16px;color:#ccccdc;-webkit-text-stroke:0.3px #ccccdc;letter-spacing:0.6121px;">+8 common labels</span>
<span class="t" style="left:514.40px;top:963.00px;font-size:14px;line-height:18px;color:#9a9cab;letter-spacing:0.6417px;">2024-10-15</span>
<span class="t" style="left:514.40px;top:985.00px;font-size:14px;line-height:18px;color:#9a9cab;letter-spacing:-0.0714px;">10:47:10</span>
<span class="t" style="left:120.50px;top:1071.00px;font-size:12px;line-height:16px;color:#ffffff;-webkit-text-stroke:0.4px #ffffff;letter-spacing:0.5969px;">Firing</span>
<span class="t" style="left:191.00px;top:1043.00px;font-size:12px;line-height:16px;color:#f4f5f0;-webkit-text-stroke:0.3px #f4f5f0;letter-spacing:0.6710px;">deviceId</span>
<span class="t" style="left:250.80px;top:1043.00px;font-size:12px;line-height:16px;color:#f4f5f0;-webkit-text-stroke:0.3px #f4f5f0;">2</span>
<span class="t" style="left:191.00px;top:1071.00px;font-size:12px;line-height:16px;color:#f4f0f5;-webkit-text-stroke:0.3px #f4f0f5;letter-spacing:0.5708px;">uuid</span>
<div style="left:226.80px;top:1071.00px;width:279.20px;height:16px;overflow:hidden"><span class="t" style="left:0;top:0;font-size:12px;line-height:16px;color:#f4f0f5;-webkit-text-stroke:0.3px #f4f0f5;letter-spacing:0.8582px;">GPU-22e6950f-423d-b636-f69a-d729566fea6a</span></div>
<span class="t" style="left:193.90px;top:1099.00px;font-size:12px;line-height:16px;color:#ccccdc;-webkit-text-stroke:0.3px #ccccdc;letter-spacing:0.6121px;">+8 common labels</span>
<span class="t" style="left:514.40px;top:1059.00px;font-size:14px;line-height:18px;color:#9a9cab;letter-spacing:0.6417px;">2024-10-15</span>
<span class="t" style="left:514.40px;top:1081.00px;font-size:14px;line-height:18px;color:#9a9cab;letter-spacing:-0.0714px;">10:47:10</span>
<span class="t" style="left:120.50px;top:1167.00px;font-size:12px;line-height:16px;color:#ffffff;-webkit-text-stroke:0.4px #ffffff;letter-spacing:0.5969px;">Firing</span>
<span class="t" style="left:191.00px;top:1139.00px;font-size:12px;line-height:16px;color:#f4f5f0;-webkit-text-stroke:0.3px #f4f5f0;letter-spacing:0.6710px;">deviceId</span>
<span class="t" style="left:250.80px;top:1139.00px;font-size:12px;line-height:16px;color:#f4f5f0;-webkit-text-stroke:0.3px #f4f5f0;">3</span>
<span class="t" style="left:191.00px;top:1167.00px;font-size:12px;line-height:16px;color:#f4f0f5;-webkit-text-stroke:0.3px #f4f0f5;letter-spacing:0.5708px;">uuid</span>
<div style="left:226.80px;top:1167.00px;width:279.20px;height:16px;overflow:hidden"><span class="t" style="left:0;top:0;font-size:12px;line-height:16px;color:#f4f0f5;-webkit-text-stroke:0.3px #f4f0f5;letter-spacing:0.7127px;">GPU-20a307b0-3c85-842a-60bd-7150a467acae</span></div>
<span class="t" style="left:193.90px;top:1195.00px;font-size:12px;line-height:16px;color:#ccccdc;-webkit-text-stroke:0.3px #ccccdc;letter-spacing:0.6121px;">+8 common labels</span>
<span class="t" style="left:514.40px;top:1155.00px;font-size:14px;line-height:18px;color:#9a9cab;letter-spacing:0.6417px;">2024-10-15</span>
<span class="t" style="left:514.40px;top:1177.00px;font-size:14px;line-height:18px;color:#9a9cab;letter-spacing:-0.0714px;">10:47:10</span>
<span class="t" style="left:120.50px;top:1263.00px;font-size:12px;line-height:16px;color:#ffffff;-webkit-text-stroke:0.4px #ffffff;letter-spacing:0.5969px;">Firing</span>
<span class="t" style="left:191.00px;top:1235.00px;font-size:12px;line-height:16px;color:#f4f5f0;-webkit-text-stroke:0.3px #f4f5f0;letter-spacing:0.6710px;">deviceId</span>
<span class="t" style="left:250.80px;top:1235.00px;font-size:12px;line-height:16px;color:#f4f5f0;-webkit-text-stroke:0.3px #f4f5f0;">4</span>
<span class="t" style="left:191.00px;top:1263.00px;font-size:12px;line-height:16px;color:#f4f0f5;-webkit-text-stroke:0.3px #f4f0f5;letter-spacing:0.5708px;">uuid</span>
<div style="left:226.80px;top:1263.00px;width:279.20px;height:16px;overflow:hidden"><span class="t" style="left:0;top:0;font-size:12px;line-height:16px;color:#f4f0f5;-webkit-text-stroke:0.3px #f4f0f5;letter-spacing:0.7985px;">GPU-f088d6c7-6ca8-4228-90d8-4a31d4b85638</span></div>
<span class="t" style="left:193.90px;top:1291.00px;font-size:12px;line-height:16px;color:#ccccdc;-webkit-text-stroke:0.3px #ccccdc;letter-spacing:0.6121px;">+8 common labels</span>
<span class="t" style="left:514.40px;top:1251.00px;font-size:14px;line-height:18px;color:#9a9cab;letter-spacing:0.6417px;">2024-10-15</span>
<span class="t" style="left:514.40px;top:1273.00px;font-size:14px;line-height:18px;color:#9a9cab;letter-spacing:-0.0714px;">10:47:10</span>
<div style="left:0;top:0;width:3519px;height:1332px;will-change:transform">
<span class="t" style="left:809.80px;top:132.00px;font-size:12px;line-height:16px;color:#ccccdc;-webkit-text-stroke:0.2px #ccccdc;letter-spacing:0.4979px;">driver_version=&quot;2.9.3&quot;, </span>
<span class="t" style="left:946.00px;top:132.00px;font-size:12px;line-height:16px;color:#ccccdc;-webkit-text-stroke:0.2px #ccccdc;letter-spacing:0.4378px;">instance=&quot;10.40.1.73:8000&quot;, </span>
<span class="t" style="left:1111.90px;top:132.00px;font-size:12px;line-height:16px;color:#ccccdc;-webkit-text-stroke:0.2px #ccccdc;letter-spacing:0.6917px;">job=&quot;metax-mx-exporter&quot;, </span>
<span class="t" style="left:1268.10px;top:132.00px;font-size:12px;line-height:16px;color:#ccccdc;-webkit-text-stroke:0.2px #ccccdc;letter-spacing:0.5630px;">modelName=&quot;MXC500 VF&quot;, </span>
<span class="t" style="left:1433.30px;top:132.00px;font-size:12px;line-height:16px;color:#ccccdc;-webkit-text-stroke:0.2px #ccccdc;letter-spacing:0.5903px;">severity=&quot;error&quot;, </span>
<span class="t" style="left:1532.80px;top:132.00px;font-size:12px;line-height:16px;color:#ccccdc;-webkit-text-stroke:0.2px #ccccdc;letter-spacing:0.6400px;">uuid=&quot;GPU-707078ae-1fcf-0ed7-1010-48029969e281&quot;}</span>
<div style="left:754px;top:132.00px;width:55.80px;height:16px;overflow:hidden"><span class="t" style="right:0;top:0;font-size:12px;line-height:16px;color:#ccccdc;-webkit-text-stroke:0.2px #ccccdc;letter-spacing:0.71px;">{__name__=&quot;mx_gpu_state&quot;, alertname=&quot;GPU not available&quot;, deviceId=&quot;0&quot;, </span></div>
<span class="t" style="left:803.20px;top:206.00px;font-size:12px;line-height:16px;color:#ccccdc;-webkit-text-stroke:0.2px #ccccdc;letter-spacing:0.4979px;">driver_version=&quot;2.9.3&quot;, </span>
<span class="t" style="left:939.40px;top:206.00px;font-size:12px;line-height:16px;color:#ccccdc;-webkit-text-stroke:0.2px #ccccdc;letter-spacing:0.4378px;">instance=&quot;10.40.1.73:8000&quot;, </span>
<span class="t" style="left:1105.30px;top:206.00px;font-size:12px;line-height:16px;color:#ccccdc;-webkit-text-stroke:0.2px #ccccdc;letter-spacing:0.6917px;">job=&quot;metax-mx-exporter&quot;, </span>
<span class="t" style="left:1261.50px;top:206.00px;font-size:12px;line-height:16px;color:#ccccdc;-webkit-text-stroke:0.2px #ccccdc;letter-spacing:0.5630px;">modelName=&quot;MXC500 VF&quot;, </span>
<span class="t" style="left:1426.70px;top:206.00px;font-size:12px;line-height:16px;color:#ccccdc;-webkit-text-stroke:0.2px #ccccdc;letter-spacing:0.5903px;">severity=&quot;error&quot;, </span>
<span class="t" style="left:1526.20px;top:206.00px;font-size:12px;line-height:16px;color:#ccccdc;-webkit-text-stroke:0.2px #ccccdc;letter-spacing:0.8372px;">uuid=&quot;GPU-9aa20f38-3233-6763-fe76-2988468dd1fd&quot;}</span>
<div style="left:754px;top:206.00px;width:49.20px;height:16px;overflow:hidden"><span class="t" style="right:0;top:0;font-size:12px;line-height:16px;color:#ccccdc;-webkit-text-stroke:0.2px #ccccdc;letter-spacing:0.71px;">{__name__=&quot;mx_gpu_state&quot;, alertname=&quot;GPU not available&quot;, deviceId=&quot;1&quot;, </span></div>
<span class="t" style="left:802.30px;top:280.00px;font-size:12px;line-height:16px;color:#ccccdc;-webkit-text-stroke:0.2px #ccccdc;letter-spacing:0.4979px;">driver_version=&quot;2.9.3&quot;, </span>
<span class="t" style="left:938.50px;top:280.00px;font-size:12px;line-height:16px;color:#ccccdc;-webkit-text-stroke:0.2px #ccccdc;letter-spacing:0.4378px;">instance=&quot;10.40.1.73:8000&quot;, </span>
<span class="t" style="left:1104.40px;top:280.00px;font-size:12px;line-height:16px;color:#ccccdc;-webkit-text-stroke:0.2px #ccccdc;letter-spacing:0.6917px;">job=&quot;metax-mx-exporter&quot;, </span>
<span class="t" style="left:1260.60px;top:280.00px;font-size:12px;line-height:16px;color:#ccccdc;-webkit-text-stroke:0.2px #ccccdc;letter-spacing:0.5630px;">modelName=&quot;MXC500 VF&quot;, </span>
<span class="t" style="left:1425.80px;top:280.00px;font-size:12px;line-height:16px;color:#ccccdc;-webkit-text-stroke:0.2px #ccccdc;letter-spacing:0.5903px;">severity=&quot;error&quot;, </span>
<span class="t" style="left:1525.30px;top:280.00px;font-size:12px;line-height:16px;color:#ccccdc;-webkit-text-stroke:0.2px #ccccdc;letter-spacing:0.7141px;">uuid=&quot;GPU-30a2519f-9b15-0b83-d076-bb19355705dd&quot;}</span>
<div style="left:754px;top:280.00px;width:48.30px;height:16px;overflow:hidden"><span class="t" style="right:0;top:0;font-size:12px;line-height:16px;color:#ccccdc;-webkit-text-stroke:0.2px #ccccdc;letter-spacing:0.71px;">{__name__=&quot;mx_gpu_state&quot;, alertname=&quot;GPU not available&quot;, deviceId=&quot;10&quot;, </span></div>
<span class="t" style="left:809.80px;top:354.00px;font-size:12px;line-height:16px;color:#ccccdc;-webkit-text-stroke:0.2px #ccccdc;letter-spacing:0.4979px;">driver_version=&quot;2.9.3&quot;, </span>
<span class="t" style="left:946.00px;top:354.00px;font-size:12px;line-height:16px;color:#ccccdc;-webkit-text-stroke:0.2px #ccccdc;letter-spacing:0.4378px;">instance=&quot;10.40.1.73:8000&quot;, </span>
<span class="t" style="left:1111.90px;top:354.00px;font-size:12px;line-height:16px;color:#ccccdc;-webkit-text-stroke:0.2px #ccccdc;letter-spacing:0.6917px;">job=&quot;metax-mx-exporter&quot;, </span>
<span class="t" style="left:1268.10px;top:354.00px;font-size:12px;line-height:16px;color:#ccccdc;-webkit-text-stroke:0.2px #ccccdc;letter-spacing:0.5630px;">modelName=&quot;MXC500 VF&quot;, </span>
<span class="t" style="left:1433.30px;top:354.00px;font-size:12px;line-height:16px;color:#ccccdc;-webkit-text-stroke:0.2px #ccccdc;letter-spacing:0.5903px;">severity=&quot;error&quot;, </span>
<span class="t" style="left:1532.80px;top:354.00px;font-size:12px;line-height:16px;color:#ccccdc;-webkit-text-stroke:0.2px #ccccdc;letter-spacing:0.7301px;">uuid=&quot;GPU-94aead00-9d27-f6b7-1c02-5f008f112a21&quot;}</span>
<div style="left:754px;top:354.00px;width:55.80px;height:16px;overflow:hidden"><span class="t" style="right:0;top:0;font-size:12px;line-height:16px;color:#ccccdc;-webkit-text-stroke:0.2px #ccccdc;letter-spacing:0.71px;">{__name__=&quot;mx_gpu_state&quot;, alertname=&quot;GPU not available&quot;, deviceId=&quot;11&quot;, </span></div>
<span class="t" style="left:813.50px;top:428.00px;font-size:12px;line-height:16px;color:#ccccdc;-webkit-text-stroke:0.2px #ccccdc;letter-spacing:0.4979px;">driver_version=&quot;2.9.3&quot;, </span>
<span class="t" style="left:949.70px;top:428.00px;font-size:12px;line-height:16px;color:#ccccdc;-webkit-text-stroke:0.2px #ccccdc;letter-spacing:0.4378px;">instance=&quot;10.40.1.73:8000&quot;, </span>
<span class="t" style="left:1115.60px;top:428.00px;font-size:12px;line-height:16px;color:#ccccdc;-webkit-text-stroke:0.2px #ccccdc;letter-spacing:0.6917px;">job=&quot;metax-mx-exporter&quot;, </span>
<span class="t" style="left:1271.80px;top:428.00px;font-size:12px;line-height:16px;color:#ccccdc;-webkit-text-stroke:0.2px #ccccdc;letter-spacing:0.5630px;">modelName=&quot;MXC500 VF&quot;, </span>
<span class="t" style="left:1437.00px;top:428.00px;font-size:12px;line-height:16px;color:#ccccdc;-webkit-text-stroke:0.2px #ccccdc;letter-spacing:0.5903px;">severity=&quot;error&quot;, </span>
<span class="t" style="left:1536.50px;top:428.00px;font-size:12px;line-height:16px;color:#ccccdc;-webkit-text-stroke:0.2px #ccccdc;letter-spacing:0.7032px;">uuid=&quot;GPU-7f16108c-fa57-6a75-390a-b0f45e016ef7&quot;}</span>
<div style="left:754px;top:428.00px;width:59.50px;height:16px;overflow:hidden"><span class="t" style="right:0;top:0;font-size:12px;line-height:16px;color:#ccccdc;-webkit-text-stroke:0.2px #ccccdc;letter-spacing:0.71px;">{__name__=&quot;mx_gpu_state&quot;, alertname=&quot;GPU not available&quot;, deviceId=&quot;12&quot;, </span></div>
<span class="t" style="left:803.30px;top:502.00px;font-size:12px;line-height:16px;color:#ccccdc;-webkit-text-stroke:0.2px #ccccdc;letter-spacing:0.4979px;">driver_version=&quot;2.9.3&quot;, </span>
<span class="t" style="left:939.50px;top:502.00px;font-size:12px;line-height:16px;color:#ccccdc;-webkit-text-stroke:0.2px #ccccdc;letter-spacing:0.4378px;">instance=&quot;10.40.1.73:8000&quot;, </span>
<span class="t" style="left:1105.40px;top:502.00px;font-size:12px;line-height:16px;color:#ccccdc;-webkit-text-stroke:0.2px #ccccdc;letter-spacing:0.6917px;">job=&quot;metax-mx-exporter&quot;, </span>
<span class="t" style="left:1261.60px;top:502.00px;font-size:12px;line-height:16px;color:#ccccdc;-webkit-text-stroke:0.2px #ccccdc;letter-spacing:0.5630px;">modelName=&quot;MXC500 VF&quot;, </span>
<span class="t" style="left:1426.80px;top:502.00px;font-size:12px;line-height:16px;color:#ccccdc;-webkit-text-stroke:0.2px #ccccdc;letter-spacing:0.5903px;">severity=&quot;error&quot;, </span>
<span class="t" style="left:1526.30px;top:502.00px;font-size:12px;line-height:16px;color:#ccccdc;-webkit-text-stroke:0.2px #ccccdc;letter-spacing:0.6928px;">uuid=&quot;GPU-4709be19-bf1b-1842-b193-b22379b5e856&quot;}</span>
<div style="left:754px;top:502.00px;width:49.30px;height:16px;overflow:hidden"><span class="t" style="right:0;top:0;font-size:12px;line-height:16px;color:#ccccdc;-webkit-text-stroke:0.2px #ccccdc;letter-spacing:0.71px;">{__name__=&quot;mx_gpu_state&quot;, alertname=&quot;GPU not available&quot;, deviceId=&quot;13&quot;, </span></div>
<span class="t" style="left:804.90px;top:575.00px;font-size:12px;line-height:16px;color:#ccccdc;-webkit-text-stroke:0.2px #ccccdc;letter-spacing:0.4979px;">driver_version=&quot;2.9.3&quot;, </span>
<span class="t" style="left:941.10px;top:575.00px;font-size:12px;line-height:16px;color:#ccccdc;-webkit-text-stroke:0.2px #ccccdc;letter-spacing:0.4378px;">instance=&quot;10.40.1.73:8000&quot;, </span>
<span class="t" style="left:1107.00px;top:575.00px;font-size:12px;line-height:16px;color:#ccccdc;-webkit-text-stroke:0.2px #ccccdc;letter-spacing:0.6917px;">job=&quot;metax-mx-exporter&quot;, </span>
<span class="t" style="left:1263.20px;top:575.00px;font-size:12px;line-height:16px;color:#ccccdc;-webkit-text-stroke:0.2px #ccccdc;letter-spacing:0.5630px;">modelName=&quot;MXC500 VF&quot;, </span>
<span class="t" style="left:1428.40px;top:575.00px;font-size:12px;line-height:16px;color:#ccccdc;-webkit-text-stroke:0.2px #ccccdc;letter-spacing:0.5903px;">severity=&quot;error&quot;, </span>
<span class="t" style="left:1527.90px;top:575.00px;font-size:12px;line-height:16px;color:#ccccdc;-webkit-text-stroke:0.2px #ccccdc;letter-spacing:0.8297px;">uuid=&quot;GPU-2df51eac-6560-28c6-df77-529447a038fa&quot;}</span>
<div style="left:754px;top:575.00px;width:50.90px;height:16px;overflow:hidden"><span class="t" style="right:0;top:0;font-size:12px;line-height:16px;color:#ccccdc;-webkit-text-stroke:0.2px #ccccdc;letter-spacing:0.71px;">{__name__=&quot;mx_gpu_state&quot;, alertname=&quot;GPU not available&quot;, deviceId=&quot;14&quot;, </span></div>
<span class="t" style="left:807.00px;top:649.00px;font-size:12px;line-height:16px;color:#ccccdc;-webkit-text-stroke:0.2px #ccccdc;letter-spacing:0.4979px;">driver_version=&quot;2.9.3&quot;, </span>
<span class="t" style="left:943.20px;top:649.00px;font-size:12px;line-height:16px;color:#ccccdc;-webkit-text-stroke:0.2px #ccccdc;letter-spacing:0.4378px;">instance=&quot;10.40.1.73:8000&quot;, </span>
<span class="t" style="left:1109.10px;top:649.00px;font-size:12px;line-height:16px;color:#ccccdc;-webkit-text-stroke:0.2px #ccccdc;letter-spacing:0.6917px;">job=&quot;metax-mx-exporter&quot;, </span>
<span class="t" style="left:1265.30px;top:649.00px;font-size:12px;line-height:16px;color:#ccccdc;-webkit-text-stroke:0.2px #ccccdc;letter-spacing:0.5630px;">modelName=&quot;MXC500 VF&quot;, </span>
<span class="t" style="left:1430.50px;top:649.00px;font-size:12px;line-height:16px;color:#ccccdc;-webkit-text-stroke:0.2px #ccccdc;letter-spacing:0.5903px;">severity=&quot;error&quot;, </span>
<span class="t" style="left:1530.00px;top:649.00px;font-size:12px;line-height:16px;color:#ccccdc;-webkit-text-stroke:0.2px #ccccdc;letter-spacing:0.9362px;">uuid=&quot;GPU-efb2a5d0-cfff-ae98-09c6-07f069b90268&quot;}</span>
<div style="left:754px;top:649.00px;width:53.00px;height:16px;overflow:hidden"><span class="t" style="right:0;top:0;font-size:12px;line-height:16px;color:#ccccdc;-webkit-text-stroke:0.2px #ccccdc;letter-spacing:0.71px;">{__name__=&quot;mx_gpu_state&quot;, alertname=&quot;GPU not available&quot;, deviceId=&quot;15&quot;, </span></div>
<span class="t" style="left:800.80px;top:723.00px;font-size:12px;line-height:16px;color:#ccccdc;-webkit-text-stroke:0.2px #ccccdc;letter-spacing:0.4979px;">driver_version=&quot;2.9.3&quot;, </span>
<span class="t" style="left:937.00px;top:723.00px;font-size:12px;line-height:16px;color:#ccccdc;-webkit-text-stroke:0.2px #ccccdc;letter-spacing:0.4378px;">instance=&quot;10.40.1.73:8000&quot;, </span>
<span class="t" style="left:1102.90px;top:723.00px;font-size:12px;line-height:16px;color:#ccccdc;-webkit-text-stroke:0.2px #ccccdc;letter-spacing:0.6917px;">job=&quot;metax-mx-exporter&quot;, </span>
<span class="t" style="left:1259.10px;top:723.00px;font-size:12px;line-height:16px;color:#ccccdc;-webkit-text-stroke:0.2px #ccccdc;letter-spacing:0.5630px;">modelName=&quot;MXC500 VF&quot;, </span>
<span class="t" style="left:1424.30px;top:723.00px;font-size:12px;line-height:16px;color:#ccccdc;-webkit-text-stroke:0.2px #ccccdc;letter-spacing:0.5903px;">severity=&quot;error&quot;, </span>
<span class="t" style="left:1523.80px;top:723.00px;font-size:12px;line-height:16px;color:#ccccdc;-webkit-text-stroke:0.2px #ccccdc;letter-spacing:0.8883px;">uuid=&quot;GPU-22e6950f-423d-b636-f69a-d729566fea6a&quot;}</span>
<div style="left:754px;top:723.00px;width:46.80px;height:16px;overflow:hidden"><span class="t" style="right:0;top:0;font-size:12px;line-height:16px;color:#ccccdc;-webkit-text-stroke:0.2px #ccccdc;letter-spacing:0.71px;">{__name__=&quot;mx_gpu_state&quot;, alertname=&quot;GPU not available&quot;, deviceId=&quot;2&quot;, </span></div>
<span class="t" style="left:797.50px;top:797.00px;font-size:12px;line-height:16px;color:#ccccdc;-webkit-text-stroke:0.2px #ccccdc;letter-spacing:0.4979px;">driver_version=&quot;2.9.3&quot;, </span>
<span class="t" style="left:933.70px;top:797.00px;font-size:12px;line-height:16px;color:#ccccdc;-webkit-text-stroke:0.2px #ccccdc;letter-spacing:0.4378px;">instance=&quot;10.40.1.73:8000&quot;, </span>
<span class="t" style="left:1099.60px;top:797.00px;font-size:12px;line-height:16px;color:#ccccdc;-webkit-text-stroke:0.2px #ccccdc;letter-spacing:0.6917px;">job=&quot;metax-mx-exporter&quot;, </span>
<span class="t" style="left:1255.80px;top:797.00px;font-size:12px;line-height:16px;color:#ccccdc;-webkit-text-stroke:0.2px #ccccdc;letter-spacing:0.5630px;">modelName=&quot;MXC500 VF&quot;, </span>
<span class="t" style="left:1421.00px;top:797.00px;font-size:12px;line-height:16px;color:#ccccdc;-webkit-text-stroke:0.2px #ccccdc;letter-spacing:0.5903px;">severity=&quot;error&quot;, </span>
<span class="t" style="left:1520.50px;top:797.00px;font-size:12px;line-height:16px;color:#ccccdc;-webkit-text-stroke:0.2px #ccccdc;letter-spacing:0.7740px;">uuid=&quot;GPU-20a307b0-3c85-842a-60bd-7150a467acae&quot;}</span>
<div style="left:754px;top:797.00px;width:43.50px;height:16px;overflow:hidden"><span class="t" style="right:0;top:0;font-size:12px;line-height:16px;color:#ccccdc;-webkit-text-stroke:0.2px #ccccdc;letter-spacing:0.71px;">{__name__=&quot;mx_gpu_state&quot;, alertname=&quot;GPU not available&quot;, deviceId=&quot;3&quot;, </span></div>
<span class="t" style="left:794.70px;top:871.00px;font-size:12px;line-height:16px;color:#ccccdc;-webkit-text-stroke:0.2px #ccccdc;letter-spacing:0.4979px;">driver_version=&quot;2.9.3&quot;, </span>
<span class="t" style="left:930.90px;top:871.00px;font-size:12px;line-height:16px;color:#ccccdc;-webkit-text-stroke:0.2px #ccccdc;letter-spacing:0.4378px;">instance=&quot;10.40.1.73:8000&quot;, </span>
<span class="t" style="left:1096.80px;top:871.00px;font-size:12px;line-height:16px;color:#ccccdc;-webkit-text-stroke:0.2px #ccccdc;letter-spacing:0.6917px;">job=&quot;metax-mx-exporter&quot;, </span>
<span class="t" style="left:1253.00px;top:871.00px;font-size:12px;line-height:16px;color:#ccccdc;-webkit-text-stroke:0.2px #ccccdc;letter-spacing:0.5630px;">modelName=&quot;MXC500 VF&quot;, </span>
<span class="t" style="left:1418.20px;top:871.00px;font-size:12px;line-height:16px;color:#ccccdc;-webkit-text-stroke:0.2px #ccccdc;letter-spacing:0.5903px;">severity=&quot;error&quot;, </span>
<span class="t" style="left:1517.70px;top:871.00px;font-size:12px;line-height:16px;color:#ccccdc;-webkit-text-stroke:0.2px #ccccdc;letter-spacing:0.9044px;">uuid=&quot;GPU-f088d6c7-6ca8-4228-90d8-4a31d4b85638&quot;}</span>
<div style="left:754px;top:871.00px;width:40.70px;height:16px;overflow:hidden"><span class="t" style="right:0;top:0;font-size:12px;line-height:16px;color:#ccccdc;-webkit-text-stroke:0.2px #ccccdc;letter-spacing:0.71px;">{__name__=&quot;mx_gpu_state&quot;, alertname=&quot;GPU not available&quot;, deviceId=&quot;4&quot;, </span></div>
<span class="t" style="left:810.70px;top:945.00px;font-size:12px;line-height:16px;color:#ccccdc;-webkit-text-stroke:0.2px #ccccdc;letter-spacing:0.4979px;">driver_version=&quot;2.9.3&quot;, </span>
<span class="t" style="left:946.90px;top:945.00px;font-size:12px;line-height:16px;color:#ccccdc;-webkit-text-stroke:0.2px #ccccdc;letter-spacing:0.4378px;">instance=&quot;10.40.1.73:8000&quot;, </span>
<span class="t" style="left:1112.80px;top:945.00px;font-size:12px;line-height:16px;color:#ccccdc;-webkit-text-stroke:0.2px #ccccdc;letter-spacing:0.6917px;">job=&quot;metax-mx-exporter&quot;, </span>
<span class="t" style="left:1269.00px;top:945.00px;font-size:12px;line-height:16px;color:#ccccdc;-webkit-text-stroke:0.2px #ccccdc;letter-spacing:0.5630px;">modelName=&quot;MXC500 VF&quot;, </span>
<span class="t" style="left:1434.20px;top:945.00px;font-size:12px;line-height:16px;color:#ccccdc;-webkit-text-stroke:0.2px #ccccdc;letter-spacing:0.5903px;">severity=&quot;error&quot;, </span>
<span class="t" style="left:1533.70px;top:945.00px;font-size:12px;line-height:16px;color:#ccccdc;-webkit-text-stroke:0.2px #ccccdc;letter-spacing:0.7252px;">uuid=&quot;GPU-13f0976d-a0ca-fae5-ed90-411fe08e5ec7&quot;}</span>
<div style="left:754px;top:945.00px;width:56.70px;height:16px;overflow:hidden"><span class="t" style="right:0;top:0;font-size:12px;line-height:16px;color:#ccccdc;-webkit-text-stroke:0.2px #ccccdc;letter-spacing:0.71px;">{__name__=&quot;mx_gpu_state&quot;, alertname=&quot;GPU not available&quot;, deviceId=&quot;5&quot;, </span></div>
<span class="t" style="left:807.80px;top:1019.00px;font-size:12px;line-height:16px;color:#ccccdc;-webkit-text-stroke:0.2px #ccccdc;letter-spacing:0.4979px;">driver_version=&quot;2.9.3&quot;, </span>
<span class="t" style="left:944.00px;top:1019.00px;font-size:12px;line-height:16px;color:#ccccdc;-webkit-text-stroke:0.2px #ccccdc;letter-spacing:0.4378px;">instance=&quot;10.40.1.73:8000&quot;, </span>
<span class="t" style="left:1109.90px;top:1019.00px;font-size:12px;line-height:16px;color:#ccccdc;-webkit-text-stroke:0.2px #ccccdc;letter-spacing:0.6917px;">job=&quot;metax-mx-exporter&quot;, </span>
<span class="t" style="left:1266.10px;top:1019.00px;font-size:12px;line-height:16px;color:#ccccdc;-webkit-text-stroke:0.2px #ccccdc;letter-spacing:0.5630px;">modelName=&quot;MXC500 VF&quot;, </span>
<span class="t" style="left:1431.30px;top:1019.00px;font-size:12px;line-height:16px;color:#ccccdc;-webkit-text-stroke:0.2px #ccccdc;letter-spacing:0.5903px;">severity=&quot;error&quot;, </span>
<span class="t" style="left:1530.80px;top:1019.00px;font-size:12px;line-height:16px;color:#ccccdc;-webkit-text-stroke:0.2px #ccccdc;letter-spacing:0.6400px;">uuid=&quot;GPU-ac13d49a-d7e2-a701-94ed-dcfe81b691cb&quot;}</span>
<div style="left:754px;top:1019.00px;width:53.80px;height:16px;overflow:hidden"><span class="t" style="right:0;top:0;font-size:12px;line-height:16px;color:#ccccdc;-webkit-text-stroke:0.2px #ccccdc;letter-spacing:0.71px;">{__name__=&quot;mx_gpu_state&quot;, alertname=&quot;GPU not available&quot;, deviceId=&quot;6&quot;, </span></div>
<span class="t" style="left:806.60px;top:1093.00px;font-size:12px;line-height:16px;color:#ccccdc;-webkit-text-stroke:0.2px #ccccdc;letter-spacing:0.4979px;">driver_version=&quot;2.9.3&quot;, </span>
<span class="t" style="left:942.80px;top:1093.00px;font-size:12px;line-height:16px;color:#ccccdc;-webkit-text-stroke:0.2px #ccccdc;letter-spacing:0.4378px;">instance=&quot;10.40.1.73:8000&quot;, </span>
<span class="t" style="left:1108.70px;top:1093.00px;font-size:12px;line-height:16px;color:#ccccdc;-webkit-text-stroke:0.2px #ccccdc;letter-spacing:0.6917px;">job=&quot;metax-mx-exporter&quot;, </span>
<span class="t" style="left:1264.90px;top:1093.00px;font-size:12px;line-height:16px;color:#ccccdc;-webkit-text-stroke:0.2px #ccccdc;letter-spacing:0.5630px;">modelName=&quot;MXC500 VF&quot;, </span>
<span class="t" style="left:1430.10px;top:1093.00px;font-size:12px;line-height:16px;color:#ccccdc;-webkit-text-stroke:0.2px #ccccdc;letter-spacing:0.5903px;">severity=&quot;error&quot;, </span>
<span class="t" style="left:1529.60px;top:1093.00px;font-size:12px;line-height:16px;color:#ccccdc;-webkit-text-stroke:0.2px #ccccdc;letter-spacing:0.7556px;">uuid=&quot;GPU-cdb1a4d7-8ac3-428b-ff9b-cc814e1d5685&quot;}</span>
<div style="left:754px;top:1093.00px;width:52.60px;height:16px;overflow:hidden"><span class="t" style="right:0;top:0;font-size:12px;line-height:16px;color:#ccccdc;-webkit-text-stroke:0.2px #ccccdc;letter-spacing:0.71px;">{__name__=&quot;mx_gpu_state&quot;, alertname=&quot;GPU not available&quot;, deviceId=&quot;7&quot;, </span></div>
<span class="t" style="left:801.60px;top:1167.00px;font-size:12px;line-height:16px;color:#ccccdc;-webkit-text-stroke:0.2px #ccccdc;letter-spacing:0.4979px;">driver_version=&quot;2.9.3&quot;, </span>
<span class="t" style="left:937.80px;top:1167.00px;font-size:12px;line-height:16px;color:#ccccdc;-webkit-text-stroke:0.2px #ccccdc;letter-spacing:0.4378px;">instance=&quot;10.40.1.73:8000&quot;, </span>
<span class="t" style="left:1103.70px;top:1167.00px;font-size:12px;line-height:16px;color:#ccccdc;-webkit-text-stroke:0.2px #ccccdc;letter-spacing:0.6917px;">job=&quot;metax-mx-exporter&quot;, </span>
<span class="t" style="left:1259.90px;top:1167.00px;font-size:12px;line-height:16px;color:#ccccdc;-webkit-text-stroke:0.2px #ccccdc;letter-spacing:0.5630px;">modelName=&quot;MXC500 VF&quot;, </span>
<span class="t" style="left:1425.10px;top:1167.00px;font-size:12px;line-height:16px;color:#ccccdc;-webkit-text-stroke:0.2px #ccccdc;letter-spacing:0.5903px;">severity=&quot;error&quot;, </span>
<span class="t" style="left:1524.60px;top:1167.00px;font-size:12px;line-height:16px;color:#ccccdc;-webkit-text-stroke:0.2px #ccccdc;letter-spacing:0.6868px;">uuid=&quot;GPU-9056bce8-355a-071a-30ca-247837be717e&quot;}</span>
<div style="left:754px;top:1167.00px;width:47.60px;height:16px;overflow:hidden"><span class="t" style="right:0;top:0;font-size:12px;line-height:16px;color:#ccccdc;-webkit-text-stroke:0.2px #ccccdc;letter-spacing:0.71px;">{__name__=&quot;mx_gpu_state&quot;, alertname=&quot;GPU not available&quot;, deviceId=&quot;8&quot;, </span></div>
<span class="t" style="left:794.70px;top:1241.00px;font-size:12px;line-height:16px;color:#ccccdc;-webkit-text-stroke:0.2px #ccccdc;letter-spacing:0.4979px;">driver_version=&quot;2.9.3&quot;, </span>
<span class="t" style="left:930.90px;top:1241.00px;font-size:12px;line-height:16px;color:#ccccdc;-webkit-text-stroke:0.2px #ccccdc;letter-spacing:0.4378px;">instance=&quot;10.40.1.73:8000&quot;, </span>
<span class="t" style="left:1096.80px;top:1241.00px;font-size:12px;line-height:16px;color:#ccccdc;-webkit-text-stroke:0.2px #ccccdc;letter-spacing:0.6917px;">job=&quot;metax-mx-exporter&quot;, </span>
<span class="t" style="left:1253.00px;top:1241.00px;font-size:12px;line-height:16px;color:#ccccdc;-webkit-text-stroke:0.2px #ccccdc;letter-spacing:0.5630px;">modelName=&quot;MXC500 VF&quot;, </span>
<span class="t" style="left:1418.20px;top:1241.00px;font-size:12px;line-height:16px;color:#ccccdc;-webkit-text-stroke:0.2px #ccccdc;letter-spacing:0.5903px;">severity=&quot;error&quot;, </span>
<span class="t" style="left:1517.70px;top:1241.00px;font-size:12px;line-height:16px;color:#ccccdc;-webkit-text-stroke:0.2px #ccccdc;letter-spacing:0.9755px;">uuid=&quot;GPU-f040d26c-d036-8a8b-90c0-66d4f06a4e85&quot;}</span>
<div style="left:754px;top:1241.00px;width:40.70px;height:16px;overflow:hidden"><span class="t" style="right:0;top:0;font-size:12px;line-height:16px;color:#ccccdc;-webkit-text-stroke:0.2px #ccccdc;letter-spacing:0.71px;">{__name__=&quot;mx_gpu_state&quot;, alertname=&quot;GPU not available&quot;, deviceId=&quot;9&quot;, </span></div>
<span class="t" style="left:1946.80px;top:1285.00px;font-size:12px;line-height:16px;color:#ccccdc;-webkit-text-stroke:0.25px #ccccdc;letter-spacing:-0.0352px;">11:00</span>
<span class="t" style="left:2081.80px;top:1285.00px;font-size:12px;line-height:16px;color:#ccccdc;-webkit-text-stroke:0.25px #ccccdc;letter-spacing:-0.0352px;">11:05</span>
<span class="t" style="left:2216.80px;top:1285.00px;font-size:12px;line-height:16px;color:#ccccdc;-webkit-text-stroke:0.25px #ccccdc;letter-spacing:-0.0352px;">11:10</span>
<span class="t" style="left:2351.80px;top:1285.00px;font-size:12px;line-height:16px;color:#ccccdc;-webkit-text-stroke:0.25px #ccccdc;letter-spacing:-0.0352px;">11:15</span>
<span class="t" style="left:2486.80px;top:1285.00px;font-size:12px;line-height:16px;color:#ccccdc;-webkit-text-stroke:0.25px #ccccdc;letter-spacing:-0.0352px;">11:20</span>
<span class="t" style="left:2621.80px;top:1285.00px;font-size:12px;line-height:16px;color:#ccccdc;-webkit-text-stroke:0.25px #ccccdc;letter-spacing:-0.0352px;">11:25</span>
<span class="t" style="left:2756.80px;top:1285.00px;font-size:12px;line-height:16px;color:#ccccdc;-webkit-text-stroke:0.25px #ccccdc;letter-spacing:-0.0352px;">11:30</span>
<span class="t" style="left:2891.80px;top:1285.00px;font-size:12px;line-height:16px;color:#ccccdc;-webkit-text-stroke:0.25px #ccccdc;letter-spacing:-0.0352px;">11:35</span>
<span class="t" style="left:3026.80px;top:1285.00px;font-size:12px;line-height:16px;color:#ccccdc;-webkit-text-stroke:0.25px #ccccdc;letter-spacing:-0.0352px;">11:40</span>
<span class="t" style="left:3161.80px;top:1285.00px;font-size:12px;line-height:16px;color:#ccccdc;-webkit-text-stroke:0.25px #ccccdc;letter-spacing:-0.0352px;">11:45</span>
<span class="t" style="left:3296.80px;top:1285.00px;font-size:12px;line-height:16px;color:#ccccdc;-webkit-text-stroke:0.25px #ccccdc;letter-spacing:-0.0352px;">11:50</span>
<span class="t" style="left:3431.80px;top:1285.00px;font-size:12px;line-height:16px;color:#ccccdc;-webkit-text-stroke:0.25px #ccccdc;letter-spacing:-0.0352px;">11:55</span>
</div>
<div style="left:16px;top:1299px;width:720px;height:8px;background:#181b1f;"></div>
<svg style="left:0;top:0;pointer-events:none" width="3519" height="1332"><rect x="3190.65" y="6.55" width="145.10" height="39.90" fill="none" stroke="#27cd27" stroke-width="4.3"/></svg>
<svg style="left:0;top:0;pointer-events:none" width="3519" height="1332"><rect x="750.55" y="57.65" width="2749.30" height="134.90" fill="none" stroke="#27cd27" stroke-width="4.3"/></svg>
<svg style="left:0;top:0;pointer-events:none" width="3519" height="1332"><rect x="50.60" y="155.70" width="624.10" height="204.70" fill="none" stroke="#27cd27" stroke-width="4.4"/></svg>
</body></html>
